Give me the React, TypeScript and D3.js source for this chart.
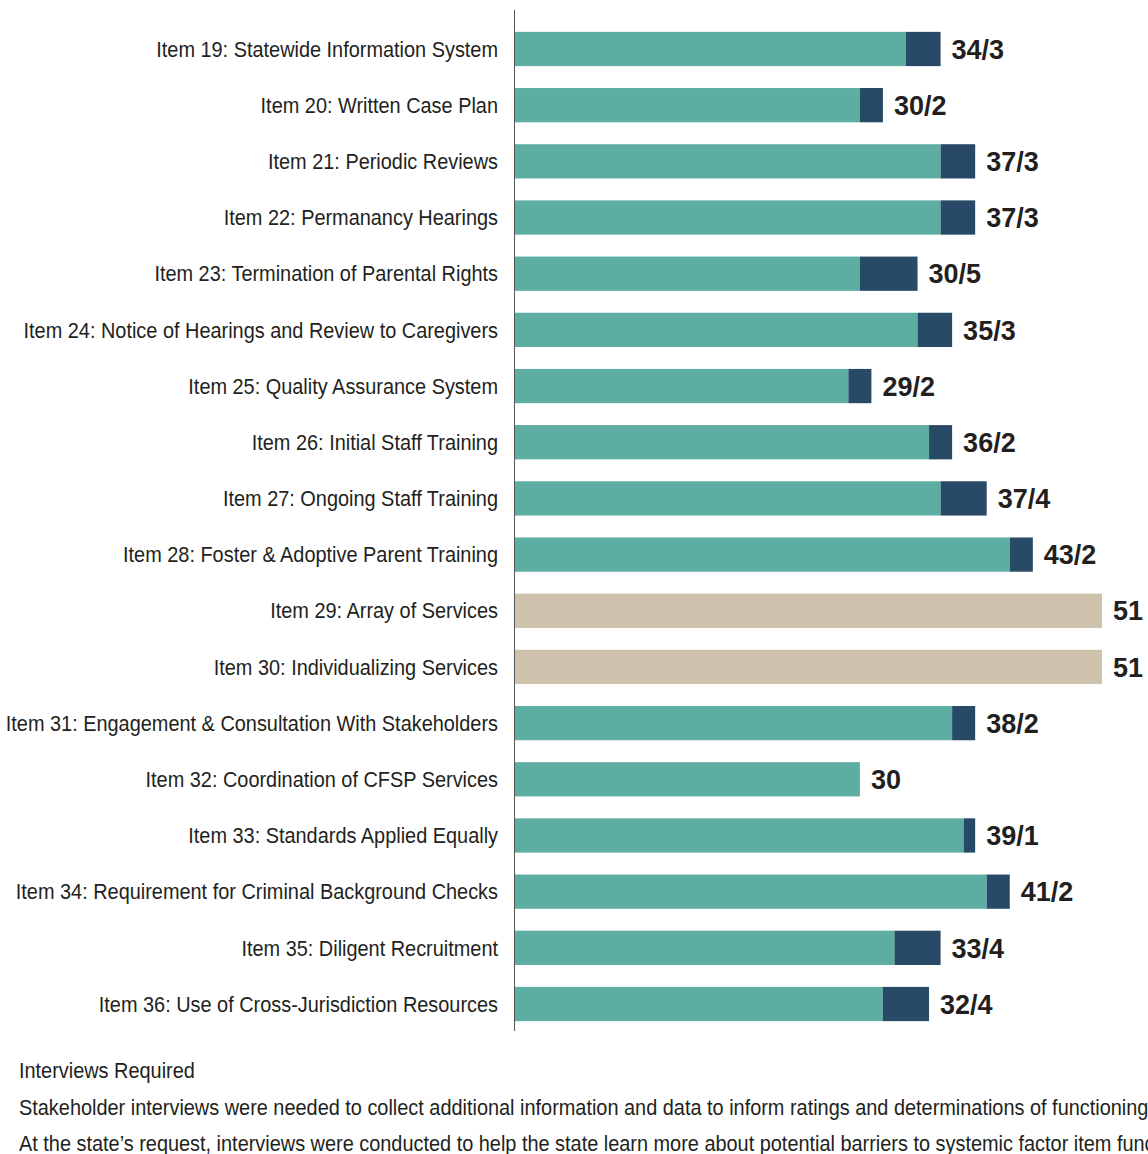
import React from "react";
import * as d3 from "d3";

const items = [
  "Item 19: Statewide Information System",
  "Item 20: Written Case Plan",
  "Item 21: Periodic Reviews",
  "Item 22: Permanancy Hearings",
  "Item 23: Termination of Parental Rights",
  "Item 24: Notice of Hearings and Review to Caregivers",
  "Item 25: Quality Assurance System",
  "Item 26: Initial Staff Training",
  "Item 27: Ongoing Staff Training",
  "Item 28: Foster & Adoptive Parent Training",
  "Item 29: Array of Services",
  "Item 30: Individualizing Services",
  "Item 31: Engagement & Consultation With Stakeholders",
  "Item 32: Coordination of CFSP Services",
  "Item 33: Standards Applied Equally",
  "Item 34: Requirement for Criminal Background Checks",
  "Item 35: Diligent Recruitment",
  "Item 36: Use of Cross-Jurisdiction Resources",
];
const primary = [34, 30, 37, 37, 30, 35, 29, 36, 37, 43, 0, 0, 38, 30, 39, 41, 33, 32];
const secondary = [3, 2, 3, 3, 5, 3, 2, 2, 4, 2, 0, 0, 2, 0, 1, 2, 4, 4];
const required = [0, 0, 0, 0, 0, 0, 0, 0, 0, 0, 51, 51, 0, 0, 0, 0, 0, 0];
const legendLines = [
  "Interviews Required",
  "Stakeholder interviews were needed to collect additional information and data to inform ratings and determinations of functioning.",
  "At the state\u2019s request, interviews were conducted to help the state learn more about potential barriers to systemic factor item functioning.",
];

const W = 1148;
const H = 1154;
const TEAL = "#5dada3";
const NAVY = "#284a66";
const BEIGE = "#cfc2ad";
const TEXT = "#231f20";
const FONT = "'Liberation Sans', Arial, sans-serif";
const SX = 0.905;

export default function App() {
  const x = d3.scaleLinear().domain([0, 51]).range([514, 1102]);
  const y = d3
    .scaleBand<string>()
    .domain(items)
    .range([20.9, 1032.1])
    .paddingInner(0.39)
    .paddingOuter(0.195);
  const bh = y.bandwidth();

  return (
    <svg
      width={W}
      height={H}
      style={{ position: "absolute", left: 0, top: 0, background: "#fff" }}
    >
      {items.map((it, i) => {
        const y0 = y(it) as number;
        const cy = y0 + bh / 2;
        const isReq = required[i] > 0;
        const total = isReq ? required[i] : primary[i] + secondary[i];
        const label = isReq
          ? String(required[i])
          : secondary[i] > 0
          ? `${primary[i]}/${secondary[i]}`
          : String(primary[i]);
        return (
          <g key={it}>
            <text
              transform={`translate(498,${cy}) scale(${SX},1)`}
              dy="0.35em"
              textAnchor="end"
              fontFamily={FONT}
              fontSize={22}
              fill={TEXT}
            >
              {it}
            </text>
            {isReq ? (
              <rect x={x(0)} y={y0} width={x(required[i]) - x(0)} height={bh} fill={BEIGE} />
            ) : (
              <>
                <rect x={x(0)} y={y0} width={x(primary[i]) - x(0)} height={bh} fill={TEAL} />
                {secondary[i] > 0 && (
                  <rect
                    x={x(primary[i])}
                    y={y0}
                    width={x(primary[i] + secondary[i]) - x(primary[i])}
                    height={bh}
                    fill={NAVY}
                  />
                )}
              </>
            )}
            <text
              x={x(total) + 11}
              y={cy}
              dy="0.36em"
              fontFamily={FONT}
              fontWeight="bold"
              fontSize={27}
              fill={TEXT}
            >
              {label}
            </text>
          </g>
        );
      })}
      <line x1={514.5} x2={514.5} y1={10} y2={1031} stroke="#555" strokeWidth={1} />
      {legendLines.map((t, i) => (
        <text
          key={i}
          transform={`translate(19,${[1078, 1115, 1151][i]}) scale(${SX},1)`}
          fontFamily={FONT}
          fontSize={22}
          fill={TEXT}
        >
          {t}
        </text>
      ))}
    </svg>
  );
}
